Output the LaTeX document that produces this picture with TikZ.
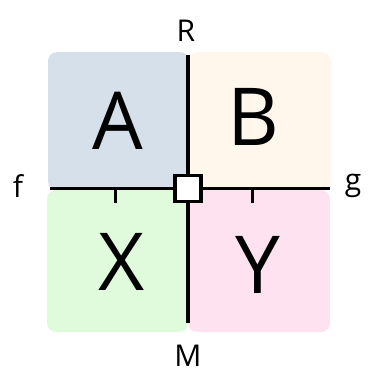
\documentclass[tikz,border=0pt]{standalone}
\usepackage{fontspec}
\setmainfont{Open Sans}
\begin{document}
\begin{tikzpicture}[x=1pt,y=-1pt,
  quad/.style={rounded corners=9pt},
  axis/.style={line width=3.6pt},
  big/.style={font=\fontsize{80}{80}\selectfont, inner sep=0pt},
  small/.style={font=\fontsize{30}{30}\selectfont, inner sep=0pt}]
\useasboundingbox (0,0) rectangle (370,373);
\definecolor{qa}{HTML}{D5E0EA}
\definecolor{qb}{HTML}{FFF7EC}
\definecolor{qx}{HTML}{E0FBDC}
\definecolor{qy}{HTML}{FFE2EF}
% quadrants
\fill[qa,quad] (48,52) rectangle (189,190);
\fill[qb,quad] (189,52) rectangle (331,190);
\fill[qx,quad] (47,190) rectangle (188,332);
\fill[qy,quad] (188,190) rectangle (330,332);
% axes
\coordinate (top) at (188,55);
\coordinate (bot) at (188,323);
\coordinate (lft) at (50,188.5);
\coordinate (rgt) at (330,188.5);
\coordinate (t1) at (115,188.5);
\coordinate (t1e) at (115,203);
\coordinate (t2) at (252,188.5);
\coordinate (t2e) at (252,203);
\draw[axis] (top) -- (bot);
\draw[axis] (lft) -- (rgt);
\draw[line width=3pt] (t1) -- (t1e);
\draw[line width=3pt] (t2) -- (t2e);
\node[draw, fill=white, line width=3.6pt, minimum size=26pt, inner sep=0pt] (c) at (188,188.5) {};
% labels
\node[big] (A) at (118,121) {A};
\node[big] (B) at (253,117) {B};
\node[big] (X) at (122,262) {X};
\node[big] (Y) at (258,265) {Y};
\node[small] (R) at (186,31) {R};
\node[small] (M) at (188,356) {M};
\node[small] (f) at (18,186) {f};
\node[small] (g) at (353,186) {g};
\end{tikzpicture}
\end{document}
